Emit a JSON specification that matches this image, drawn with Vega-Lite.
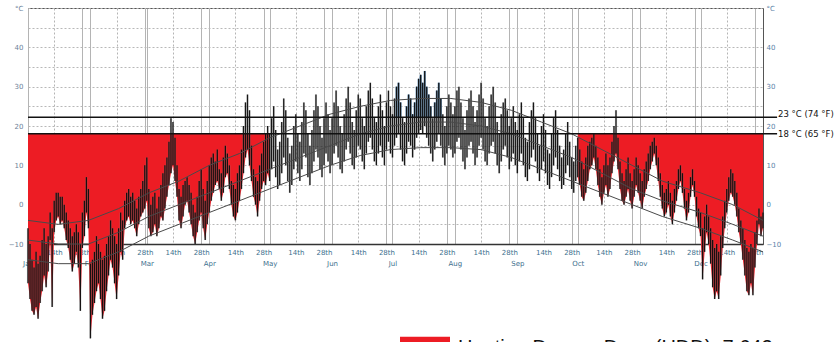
{
"$schema": "https://vega.github.io/schema/vega-lite/v6.json",
"autosize": "none",
"width": 735, "height": 236,
"padding": {"left": 28, "top": 8, "right": 75, "bottom": 98},
"background": "white",
"view": {"stroke": "#555", "strokeWidth": 1},
"config": {"font": "DejaVu Sans"},
"datasets": {
"t": [
{"d":0,"l":-20,"h":-6},{"d":1,"l":-24,"h":-10},{"d":2,"l":-27,"h":-14},{"d":3,"l":-28,"h":-16},{"d":4,"l":-26,"h":-12},{"d":5,"l":-29,"h":-15},{"d":6,"l":-25,"h":-13},{"d":7,"l":-22,"h":-9},{"d":8,"l":-18,"h":-6},{"d":9,"l":-21,"h":-10},
{"d":10,"l":-17,"h":-8},{"d":11,"l":-9,"h":-2},{"d":12,"l":-26,"h":-6},{"d":13,"l":-7,"h":1},{"d":14,"l":-4,"h":3},{"d":15,"l":-3,"h":3},{"d":16,"l":-5,"h":2},{"d":17,"l":-4,"h":2},{"d":18,"l":-6,"h":0},{"d":19,"l":-9,"h":-2},
{"d":20,"l":-11,"h":-4},{"d":21,"l":-14,"h":-6},{"d":22,"l":-17,"h":-8},{"d":23,"l":-15,"h":-7},{"d":24,"l":-12,"h":-5},{"d":25,"l":-16,"h":-7},{"d":26,"l":-27,"h":-10},{"d":27,"l":-11,"h":-2},{"d":28,"l":-8,"h":1},{"d":29,"l":-2,"h":7},
{"d":30,"l":-6,"h":4},{"d":31,"l":-34,"h":-15},{"d":32,"l":-28,"h":-14},{"d":33,"l":-25,"h":-12},{"d":34,"l":-22,"h":-8},{"d":35,"l":-20,"h":-10},{"d":36,"l":-24,"h":-12},{"d":37,"l":-29,"h":-14},{"d":38,"l":-27,"h":-13},{"d":39,"l":-22,"h":-10},
{"d":40,"l":-18,"h":-8},{"d":41,"l":-14,"h":-4},{"d":42,"l":-16,"h":-6},{"d":43,"l":-20,"h":-8},{"d":44,"l":-24,"h":-10},{"d":45,"l":-18,"h":-6},{"d":46,"l":-12,"h":-2},{"d":47,"l":-14,"h":-4},{"d":48,"l":-6,"h":1},{"d":49,"l":-4,"h":3},
{"d":50,"l":-3,"h":4},{"d":51,"l":-5,"h":2},{"d":52,"l":-4,"h":3},{"d":53,"l":-6,"h":1},{"d":54,"l":-8,"h":-1},{"d":55,"l":-5,"h":2},{"d":56,"l":-3,"h":4},{"d":57,"l":-2,"h":6},{"d":58,"l":-1,"h":10},{"d":59,"l":1,"h":12},
{"d":60,"l":-6,"h":4},{"d":61,"l":-8,"h":0},{"d":62,"l":-7,"h":2},{"d":63,"l":-5,"h":3},{"d":64,"l":-8,"h":-1},{"d":65,"l":-6,"h":2},{"d":66,"l":-3,"h":5},{"d":67,"l":-4,"h":8},{"d":68,"l":-1,"h":10},{"d":69,"l":2,"h":12},
{"d":70,"l":5,"h":16},{"d":71,"l":8,"h":22},{"d":72,"l":10,"h":21},{"d":73,"l":6,"h":17},{"d":74,"l":2,"h":10},{"d":75,"l":-4,"h":4},{"d":76,"l":-6,"h":2},{"d":77,"l":-3,"h":5},{"d":78,"l":0,"h":6},{"d":79,"l":1,"h":7},
{"d":80,"l":-2,"h":5},{"d":81,"l":-5,"h":3},{"d":82,"l":-8,"h":0},{"d":83,"l":-10,"h":-2},{"d":84,"l":-7,"h":2},{"d":85,"l":-4,"h":6},{"d":86,"l":-2,"h":9},{"d":87,"l":-6,"h":4},{"d":88,"l":-9,"h":1},{"d":89,"l":-5,"h":6},
{"d":90,"l":-2,"h":10},{"d":91,"l":1,"h":12},{"d":92,"l":3,"h":13},{"d":93,"l":5,"h":11},{"d":94,"l":6,"h":14},{"d":95,"l":4,"h":9},{"d":96,"l":1,"h":8},{"d":97,"l":3,"h":12},{"d":98,"l":7,"h":15},{"d":99,"l":8,"h":13},
{"d":100,"l":4,"h":10},{"d":101,"l":0,"h":6},{"d":102,"l":-3,"h":5},{"d":103,"l":-4,"h":4},{"d":104,"l":-2,"h":8},{"d":105,"l":1,"h":10},{"d":106,"l":4,"h":14},{"d":107,"l":8,"h":20},{"d":108,"l":12,"h":26},{"d":109,"l":14,"h":28},
{"d":110,"l":10,"h":24},{"d":111,"l":6,"h":15},{"d":112,"l":2,"h":9},{"d":113,"l":0,"h":7},{"d":114,"l":-3,"h":6},{"d":115,"l":1,"h":10},{"d":116,"l":4,"h":13},{"d":117,"l":6,"h":16},{"d":118,"l":5,"h":18},{"d":119,"l":8,"h":20},
{"d":120,"l":6,"h":18},{"d":121,"l":9,"h":22},{"d":122,"l":11,"h":25},{"d":123,"l":7,"h":19},{"d":124,"l":4,"h":14},{"d":125,"l":5,"h":16},{"d":126,"l":8,"h":21},{"d":127,"l":12,"h":27},{"d":128,"l":10,"h":24},{"d":129,"l":6,"h":17},
{"d":130,"l":3,"h":13},{"d":131,"l":5,"h":15},{"d":132,"l":9,"h":20},{"d":133,"l":11,"h":23},{"d":134,"l":8,"h":18},{"d":135,"l":6,"h":16},{"d":136,"l":9,"h":21},{"d":137,"l":13,"h":26},{"d":138,"l":12,"h":24},{"d":139,"l":7,"h":18},
{"d":140,"l":5,"h":15},{"d":141,"l":8,"h":19},{"d":142,"l":11,"h":24},{"d":143,"l":14,"h":28},{"d":144,"l":12,"h":25},{"d":145,"l":9,"h":20},{"d":146,"l":7,"h":17},{"d":147,"l":10,"h":22},{"d":148,"l":13,"h":26},{"d":149,"l":11,"h":23},
{"d":150,"l":8,"h":19},{"d":151,"l":10,"h":22},{"d":152,"l":13,"h":26},{"d":153,"l":15,"h":29},{"d":154,"l":12,"h":25},{"d":155,"l":9,"h":20},{"d":156,"l":8,"h":18},{"d":157,"l":11,"h":23},{"d":158,"l":14,"h":27},{"d":159,"l":16,"h":30},
{"d":160,"l":13,"h":26},{"d":161,"l":10,"h":21},{"d":162,"l":9,"h":19},{"d":163,"l":12,"h":24},{"d":164,"l":15,"h":28},{"d":165,"l":14,"h":27},{"d":166,"l":11,"h":22},{"d":167,"l":9,"h":20},{"d":168,"l":13,"h":25},{"d":169,"l":16,"h":29},
{"d":170,"l":17,"h":31},{"d":171,"l":14,"h":27},{"d":172,"l":11,"h":22},{"d":173,"l":10,"h":21},{"d":174,"l":13,"h":25},{"d":175,"l":15,"h":28},{"d":176,"l":12,"h":24},{"d":177,"l":10,"h":20},{"d":178,"l":14,"h":26},{"d":179,"l":16,"h":29},
{"d":180,"l":13,"h":25},{"d":181,"l":12,"h":23},{"d":182,"l":15,"h":27},{"d":183,"l":17,"h":30},{"d":184,"l":18,"h":31},{"d":185,"l":14,"h":26},{"d":186,"l":11,"h":22},{"d":187,"l":10,"h":21},{"d":188,"l":13,"h":25},{"d":189,"l":16,"h":28},
{"d":190,"l":15,"h":27},{"d":191,"l":12,"h":23},{"d":192,"l":14,"h":26},{"d":193,"l":17,"h":30},{"d":194,"l":18,"h":32},{"d":195,"l":19,"h":33},{"d":196,"l":18,"h":31},{"d":197,"l":20,"h":34},{"d":198,"l":17,"h":30},{"d":199,"l":15,"h":28},
{"d":200,"l":13,"h":25},{"d":201,"l":11,"h":22},{"d":202,"l":14,"h":26},{"d":203,"l":16,"h":29},{"d":204,"l":18,"h":31},{"d":205,"l":15,"h":27},{"d":206,"l":12,"h":23},{"d":207,"l":10,"h":20},{"d":208,"l":13,"h":25},{"d":209,"l":15,"h":28},
{"d":210,"l":14,"h":26},{"d":211,"l":12,"h":23},{"d":212,"l":13,"h":25},{"d":213,"l":16,"h":29},{"d":214,"l":17,"h":30},{"d":215,"l":14,"h":26},{"d":216,"l":11,"h":22},{"d":217,"l":9,"h":19},{"d":218,"l":12,"h":24},{"d":219,"l":15,"h":27},
{"d":220,"l":16,"h":29},{"d":221,"l":13,"h":25},{"d":222,"l":10,"h":21},{"d":223,"l":12,"h":24},{"d":224,"l":15,"h":28},{"d":225,"l":17,"h":31},{"d":226,"l":14,"h":27},{"d":227,"l":11,"h":22},{"d":228,"l":10,"h":20},{"d":229,"l":13,"h":25},
{"d":230,"l":15,"h":28},{"d":231,"l":16,"h":30},{"d":232,"l":13,"h":26},{"d":233,"l":10,"h":21},{"d":234,"l":8,"h":18},{"d":235,"l":11,"h":23},{"d":236,"l":14,"h":26},{"d":237,"l":15,"h":27},{"d":238,"l":12,"h":24},{"d":239,"l":9,"h":20},
{"d":240,"l":11,"h":22},{"d":241,"l":13,"h":25},{"d":242,"l":10,"h":21},{"d":243,"l":8,"h":19},{"d":244,"l":11,"h":23},{"d":245,"l":13,"h":26},{"d":246,"l":10,"h":22},{"d":247,"l":7,"h":17},{"d":248,"l":6,"h":16},{"d":249,"l":9,"h":21},
{"d":250,"l":12,"h":24},{"d":251,"l":14,"h":26},{"d":252,"l":11,"h":22},{"d":253,"l":8,"h":18},{"d":254,"l":6,"h":15},{"d":255,"l":9,"h":20},{"d":256,"l":11,"h":23},{"d":257,"l":8,"h":19},{"d":258,"l":5,"h":14},{"d":259,"l":4,"h":13},
{"d":260,"l":7,"h":18},{"d":261,"l":10,"h":22},{"d":262,"l":12,"h":24},{"d":263,"l":9,"h":19},{"d":264,"l":6,"h":15},{"d":265,"l":4,"h":12},{"d":266,"l":5,"h":14},{"d":267,"l":8,"h":18},{"d":268,"l":10,"h":21},{"d":269,"l":7,"h":16},
{"d":270,"l":4,"h":12},{"d":271,"l":3,"h":11},{"d":272,"l":6,"h":15},{"d":273,"l":7,"h":17},{"d":274,"l":5,"h":14},{"d":275,"l":2,"h":11},{"d":276,"l":1,"h":9},{"d":277,"l":3,"h":12},{"d":278,"l":6,"h":15},{"d":279,"l":9,"h":16},
{"d":280,"l":10,"h":17},{"d":281,"l":12,"h":18},{"d":282,"l":9,"h":15},{"d":283,"l":5,"h":12},{"d":284,"l":2,"h":9},{"d":285,"l":0,"h":7},{"d":286,"l":3,"h":10},{"d":287,"l":5,"h":13},{"d":288,"l":2,"h":10},{"d":289,"l":4,"h":12},
{"d":290,"l":8,"h":16},{"d":291,"l":11,"h":20},{"d":292,"l":13,"h":24},{"d":293,"l":9,"h":17},{"d":294,"l":4,"h":11},{"d":295,"l":1,"h":8},{"d":296,"l":0,"h":6},{"d":297,"l":2,"h":9},{"d":298,"l":4,"h":12},{"d":299,"l":1,"h":8},
{"d":300,"l":-1,"h":6},{"d":301,"l":2,"h":9},{"d":302,"l":5,"h":12},{"d":303,"l":3,"h":10},{"d":304,"l":1,"h":8},{"d":305,"l":-1,"h":6},{"d":306,"l":2,"h":9},{"d":307,"l":4,"h":11},{"d":308,"l":6,"h":13},{"d":309,"l":9,"h":15},
{"d":310,"l":11,"h":16},{"d":311,"l":13,"h":17},{"d":312,"l":10,"h":15},{"d":313,"l":6,"h":12},{"d":314,"l":2,"h":8},{"d":315,"l":-1,"h":5},{"d":316,"l":-3,"h":3},{"d":317,"l":-2,"h":4},{"d":318,"l":0,"h":6},{"d":319,"l":-3,"h":3},
{"d":320,"l":-5,"h":1},{"d":321,"l":-2,"h":4},{"d":322,"l":1,"h":6},{"d":323,"l":4,"h":9},{"d":324,"l":6,"h":10},{"d":325,"l":3,"h":8},{"d":326,"l":-1,"h":4},{"d":327,"l":-4,"h":1},{"d":328,"l":-2,"h":3},{"d":329,"l":2,"h":7},
{"d":330,"l":5,"h":9},{"d":331,"l":2,"h":6},{"d":332,"l":-3,"h":2},{"d":333,"l":-6,"h":-1},{"d":334,"l":-8,"h":-2},{"d":335,"l":-19,"h":-6},{"d":336,"l":-12,"h":-3},{"d":337,"l":-7,"h":0},{"d":338,"l":-10,"h":-3},{"d":339,"l":-15,"h":-6},
{"d":340,"l":-21,"h":-9},{"d":341,"l":-24,"h":-11},{"d":342,"l":-22,"h":-10},{"d":343,"l":-24,"h":-12},{"d":344,"l":-18,"h":-8},{"d":345,"l":-11,"h":-3},{"d":346,"l":-6,"h":1},{"d":347,"l":-2,"h":4},{"d":348,"l":1,"h":7},{"d":349,"l":3,"h":9},
{"d":350,"l":2,"h":8},{"d":351,"l":0,"h":6},{"d":352,"l":-3,"h":3},{"d":353,"l":-7,"h":-1},{"d":354,"l":-10,"h":-4},{"d":355,"l":-14,"h":-6},{"d":356,"l":-18,"h":-9},{"d":357,"l":-22,"h":-11},{"d":358,"l":-23,"h":-12},{"d":359,"l":-20,"h":-10},
{"d":360,"l":-23,"h":-11},{"d":361,"l":-16,"h":-7},{"d":362,"l":-10,"h":-4},{"d":363,"l":-5,"h":-1},{"d":364,"l":-8,"h":-3},{"d":365,"l":-6,"h":-2}
],
"avg": [
{"s":"max","d":0,"v":-4},{"s":"max","d":15,"v":-5},{"s":"max","d":30,"v":-4},{"s":"max","d":45,"v":-1},{"s":"max","d":60,"v":3},{"s":"max","d":75,"v":6},{"s":"max","d":90,"v":10},{"s":"max","d":105,"v":13},{"s":"max","d":120,"v":17},{"s":"max","d":135,"v":20},{"s":"max","d":150,"v":23},{"s":"max","d":165,"v":25},{"s":"max","d":180,"v":26.5},{"s":"max","d":195,"v":27},{"s":"max","d":210,"v":27},{"s":"max","d":225,"v":26},{"s":"max","d":240,"v":24},{"s":"max","d":255,"v":21},{"s":"max","d":270,"v":18},{"s":"max","d":285,"v":14},{"s":"max","d":300,"v":10},{"s":"max","d":315,"v":6},{"s":"max","d":334,"v":3},{"s":"max","d":350,"v":0},{"s":"max","d":365,"v":-4},
{"s":"mean","d":0,"v":-9},{"s":"mean","d":15,"v":-10},{"s":"mean","d":30,"v":-10},{"s":"mean","d":45,"v":-7},{"s":"mean","d":60,"v":-3},{"s":"mean","d":75,"v":0},{"s":"mean","d":90,"v":3},{"s":"mean","d":105,"v":6},{"s":"mean","d":120,"v":9},{"s":"mean","d":135,"v":12},{"s":"mean","d":150,"v":15},{"s":"mean","d":165,"v":18},{"s":"mean","d":180,"v":20},{"s":"mean","d":195,"v":21},{"s":"mean","d":210,"v":21},{"s":"mean","d":225,"v":20},{"s":"mean","d":240,"v":18},{"s":"mean","d":255,"v":15},{"s":"mean","d":270,"v":12},{"s":"mean","d":285,"v":8},{"s":"mean","d":300,"v":4},{"s":"mean","d":315,"v":1},{"s":"mean","d":334,"v":-2},{"s":"mean","d":350,"v":-5},{"s":"mean","d":365,"v":-8},
{"s":"min","d":0,"v":-14},{"s":"min","d":15,"v":-15},{"s":"min","d":30,"v":-15},{"s":"min","d":45,"v":-12},{"s":"min","d":60,"v":-8},{"s":"min","d":75,"v":-5},{"s":"min","d":90,"v":-2},{"s":"min","d":105,"v":1},{"s":"min","d":120,"v":4},{"s":"min","d":135,"v":7},{"s":"min","d":150,"v":10},{"s":"min","d":165,"v":12.5},{"s":"min","d":180,"v":14},{"s":"min","d":195,"v":14.5},{"s":"min","d":210,"v":14.5},{"s":"min","d":225,"v":14},{"s":"min","d":240,"v":12},{"s":"min","d":255,"v":9},{"s":"min","d":270,"v":6},{"s":"min","d":285,"v":3},{"s":"min","d":300,"v":0},{"s":"min","d":315,"v":-3},{"s":"min","d":334,"v":-6},{"s":"min","d":350,"v":-9},{"s":"min","d":365,"v":-12}
]
},
"resolve": {"scale": {"y": "independent"}, "axis": {"x": "independent"}},
"layer": [
{
"data": {"name": "t"},
"transform": [{"filter": "datum.d <= 120"}],
"mark": {"type": "area", "clip": false, "opacity": 1},
"encoding": {
"x": {"field": "d", "type": "quantitative", "scale": {"domain": [0, 365], "nice": false, "zero": false, "padding": 0},
"axis": {"title": null, "values": [0,13,27,31,44,58,59,72,86,90,103,117,120,133,147,151,164,178,181,194,208,212,225,239,243,256,270,273,286,300,304,317,331,334,347,361],
"labelExpr": "indexof([0,31,59,90,120,151,181,212,243,273,304,334], datum.value) >= 0 ? ['', ['Jan','Feb','Mar','Apr','May','Jun','Jul','Aug','Sep','Oct','Nov','Dec'][indexof([0,31,59,90,120,151,181,212,243,273,304,334], datum.value)]] : (indexof([13,44,72,103,133,164,194,225,256,286,317,347], datum.value) >= 0 ? '14th' : '28th')",
"labelOverlap": false, "labelFontSize": 7, "labelColor": "#3d6f8e", "labelPadding": 4, "labelLineHeight": 11, "labelBound": false, "labelFlush": false,
"ticks": false, "domain": true, "domainColor": "#333", "domainWidth": 1.5,
"grid": true, "gridColor": "#b4b4b4", "gridWidth": 1,
"gridDash": {"condition": {"test": "indexof([13,44,72,103,133,164,194,225,256,286,317,347], datum.value) >= 0", "value": [2, 2]}, "value": []}}},
"y": {"field": "l", "type": "quantitative", "scale": {"domain": [-10, 50], "nice": false, "zero": false},
"axis": {"title": null, "orient": "left", "values": [-10,-5,0,5,10,15,20,25,30,35,40,45,50],
"labelExpr": "datum.value == 50 ? '°C' : (datum.value % 10 == 0 ? datum.label : '')",
"labelFontSize": 7, "labelColor": "#6d8199", "labelPadding": 5, "ticks": false, "domain": false,
"grid": true, "gridColor": "#b8b8b8", "gridDash": [2, 2]}},
"y2": {"datum": 18},
"color": {"datum": "Heating Degree Days (HDD): 7,642", "scale": {"range": ["#ed1c24"]},
"legend": {"orient": "none", "legendX": 372, "legendY": 315, "title": null, "symbolType": "M-1,-0.45H1V0.45H-1Z", "symbolSize": 2500, "symbolStrokeWidth": 0, "symbolOpacity": 1, "labelFontSize": 20, "labelFont": "Liberation Sans", "labelColor": "#111", "labelOffset": 8, "labelLimit": 0, "padding": 0}}
}
},
{
"data": {"name": "t"},
"transform": [{"filter": "datum.d >= 273"}],
"mark": {"type": "area", "clip": false, "color": "#ed1c24"},
"encoding": {
"x": {"field": "d", "type": "quantitative", "scale": {"domain": [0, 365], "nice": false, "zero": false, "padding": 0}, "axis": null},
"y": {"field": "l", "type": "quantitative", "scale": {"domain": [-10, 50], "nice": false, "zero": false}, "axis": null},
"y2": {"datum": 18}
}
},
{
"data": {"name": "t"},
"transform": [{"filter": "datum.d >= 183 && datum.d <= 205 && datum.h > 22.2"}],
"mark": {"type": "rule", "clip": false, "color": "#5b9bd5", "strokeWidth": 2},
"encoding": {
"x": {"field": "d", "type": "quantitative", "scale": {"domain": [0, 365], "nice": false, "zero": false, "padding": 0}, "axis": null},
"y": {"field": "h", "type": "quantitative", "scale": {"domain": [-10, 50], "nice": false, "zero": false}, "axis": null},
"y2": {"datum": 22.2}
}
},
{
"data": {"name": "t"},
"mark": {"type": "rule", "clip": false, "color": "#8a8a8a", "strokeWidth": 2.2, "opacity": 0.35},
"encoding": {
"x": {"field": "d", "type": "quantitative", "scale": {"domain": [0, 365], "nice": false, "zero": false, "padding": 0}, "axis": null},
"y": {"field": "l", "type": "quantitative", "scale": {"domain": [-10, 50], "nice": false, "zero": false}, "axis": null},
"y2": {"field": "h"}
}
},
{
"data": {"name": "t"},
"mark": {"type": "rule", "clip": false, "color": "#0d0d0d", "strokeWidth": 1.3, "opacity": 0.95},
"encoding": {
"x": {"field": "d", "type": "quantitative", "scale": {"domain": [0, 365], "nice": false, "zero": false, "padding": 0}, "axis": null},
"y": {"field": "l", "type": "quantitative", "scale": {"domain": [-10, 50], "nice": false, "zero": false},
"axis": {"title": null, "orient": "right", "values": [-10,0,10,20,30,40,50],
"labelExpr": "datum.value == 50 ? '°C' : datum.label",
"labelFontSize": 7, "labelColor": "#5a7fa8", "labelPadding": 3, "ticks": false, "domain": false, "grid": false}},
"y2": {"field": "h"}
}
},
{
"data": {"name": "avg"},
"mark": {"type": "line", "clip": false, "color": "#4a4a4a", "strokeWidth": 1},
"encoding": {
"x": {"field": "d", "type": "quantitative", "scale": {"domain": [0, 365], "nice": false, "zero": false, "padding": 0}, "axis": null},
"y": {"field": "v", "type": "quantitative", "scale": {"domain": [-10, 50], "nice": false, "zero": false}, "axis": null},
"detail": {"field": "s"}
}
},
{
"data": {"values": [{}]},
"mark": {"type": "rule", "clip": false, "color": "#111", "strokeWidth": 1.5},
"encoding": {
"x": {"datum": 0, "type": "quantitative", "scale": {"domain": [0, 365], "nice": false, "zero": false, "padding": 0}, "axis": null},
"x2": {"datum": 372},
"y": {"datum": 18, "type": "quantitative", "scale": {"domain": [-10, 50], "nice": false, "zero": false}, "axis": null}
}
},
{
"data": {"values": [{}]},
"mark": {"type": "rule", "clip": false, "color": "#111", "strokeWidth": 1.5},
"encoding": {
"x": {"datum": 0, "type": "quantitative", "scale": {"domain": [0, 365], "nice": false, "zero": false, "padding": 0}, "axis": null},
"x2": {"datum": 372},
"y": {"datum": 22.2, "type": "quantitative", "scale": {"domain": [-10, 50], "nice": false, "zero": false}, "axis": null}
}
},
{
"data": {"values": [{"lab": "23 °C (74 °F)"}]},
"mark": {"type": "text", "clip": false, "align": "left", "baseline": "middle", "dy": -3, "fontSize": 8.5, "color": "#111"},
"encoding": {
"x": {"datum": 372.5, "type": "quantitative", "scale": {"domain": [0, 365], "nice": false, "zero": false, "padding": 0}, "axis": null},
"y": {"datum": 22.2, "type": "quantitative", "scale": {"domain": [-10, 50], "nice": false, "zero": false}, "axis": null},
"text": {"field": "lab"}
}
},
{
"data": {"values": [{"lab": "18 °C (65 °F)"}]},
"mark": {"type": "text", "clip": false, "align": "left", "baseline": "middle", "fontSize": 8.5, "color": "#111"},
"encoding": {
"x": {"datum": 372.5, "type": "quantitative", "scale": {"domain": [0, 365], "nice": false, "zero": false, "padding": 0}, "axis": null},
"y": {"datum": 18, "type": "quantitative", "scale": {"domain": [-10, 50], "nice": false, "zero": false}, "axis": null},
"text": {"field": "lab"}
}
}
]
}
